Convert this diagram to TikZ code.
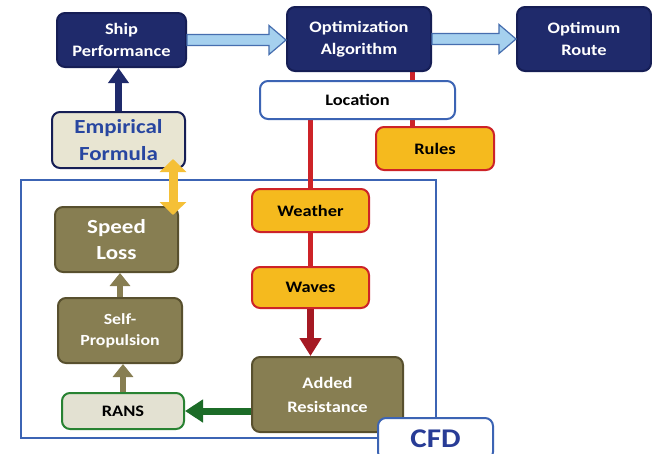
\documentclass[tikz,border=0pt]{standalone}
\usepackage{fontspec}
\setmainfont{Carlito}[FakeStretch=1.15]
\usetikzlibrary{arrows.meta,calc}
\definecolor{navy}{RGB}{31,42,107}
\definecolor{navyline}{RGB}{22,30,85}
\definecolor{lblue}{RGB}{165,208,238}
\definecolor{lblueline}{RGB}{70,110,175}
\definecolor{empfill}{RGB}{232,229,210}
\definecolor{emptext}{RGB}{40,70,160}
\definecolor{olive}{RGB}{135,126,82}
\definecolor{oliveline}{RGB}{88,80,46}
\definecolor{ransfill}{RGB}{227,225,210}
\definecolor{greenline}{RGB}{40,130,50}
\definecolor{greenarr}{RGB}{28,108,40}
\definecolor{orange}{RGB}{245,186,30}
\definecolor{redline}{RGB}{205,35,40}
\definecolor{redarr}{RGB}{165,25,35}
\definecolor{cfdblue}{RGB}{60,100,180}
\definecolor{cfdtext}{RGB}{40,60,150}
\definecolor{yellowarr}{RGB}{245,192,55}
\pgfdeclarelayer{bg}
\pgfsetlayers{bg,main}
\tikzset{
  box/.style={rounded corners=8pt, line width=2pt, align=center, inner sep=0pt,
    font=\bfseries\fontsize{16}{22}\selectfont},
  navybox/.style={box, fill=navy, draw=navyline, text=white},
  olivebox/.style={box, fill=olive, draw=oliveline, text=white},
  orangebox/.style={box, fill=orange, draw=redline, text=black},
  whitebox/.style={box, fill=white, draw=cfdblue, text=black},
  fatarrow/.style={fill=lblue, draw=lblueline, line width=1.2pt, line join=miter},
  redconn/.style={draw=redline, line width=5pt},
}
\begin{document}
\begin{tikzpicture}[x=1pt,y=-1pt]
\useasboundingbox (0,0) rectangle (652,453);
% nodes
\node[navybox, minimum width=129pt, minimum height=54pt] (sp) at (121.5,40) {Ship\\Performance};
\node[navybox, minimum width=144pt, minimum height=64pt] (opt) at (359,39) {Optimization\\Algorithm};
\node[navybox, minimum width=134pt, minimum height=64pt] (route) at (584,39) {Optimum\\Route};
\node[whitebox, minimum width=195pt, minimum height=38pt] (loc) at (357.5,100) {Location};
\node[orangebox, minimum width=118pt, minimum height=43pt] (rules) at (435,148.5) {Rules};
\node[box, fill=empfill, draw=navyline, text=emptext, minimum width=133pt, minimum height=56pt,
  font=\bfseries\fontsize{20}{27}\selectfont] (emp) at (118.5,140) {Empirical\\Formula};
\node[olivebox, minimum width=123pt, minimum height=65pt,
  font=\bfseries\fontsize{20}{26}\selectfont] (speed) at (116.5,239.5) {Speed\\Loss};
\node[olivebox, minimum width=124pt, minimum height=65pt,
  font=\bfseries\fontsize{15.5}{21}\selectfont] (self) at (120,330.5) {Self-\\Propulsion};
\node[box, fill=ransfill, draw=greenline, text=black, minimum width=122pt, minimum height=36pt] (rans) at (123,411) {RANS};
\node[orangebox, minimum width=117pt, minimum height=43pt] (weather) at (310.5,210.5) {Weather};
\node[orangebox, minimum width=117pt, minimum height=41pt] (waves) at (310.5,287.5) {Waves};
\node[olivebox, minimum width=151pt, minimum height=75pt,
  font=\bfseries\fontsize{16}{24}\selectfont] (added) at (327.5,394.5) {Added\\Resistance};
\node[box, fill=white, draw=cfdblue, text=cfdtext, minimum width=115pt, minimum height=42pt,
  font=\bfseries\fontsize{27}{30}\selectfont] (cfd) at (435.5,439) {CFD};
% background layer: white page, CFD frame, red lines
\begin{pgfonlayer}{bg}
  \fill[white] (0,0) rectangle (652,453);
  \draw[cfdblue, line width=2.5pt] (21,180) rectangle (436,438);
  \coordinate (r1) at ([xshift=-23pt]rules.north);
  \draw[redconn] (opt.south -| r1) -- (r1);
  \draw[redconn] (weather.north |- loc.south) -- (weather.north);
  \draw[redconn] (weather.south) -- (waves.north);
\end{pgfonlayer}
% fat light-blue arrows
\coordinate (a1) at (opt.west |- sp.east);
\draw[fatarrow] ($(sp.east)+(0,-5.5)$) -- ($(a1)+(-17,-5.5)$) -- ($(a1)+(-17,-14.5)$) -- (a1)
  -- ($(a1)+(-17,14.5)$) -- ($(a1)+(-17,5.5)$) -- ($(sp.east)+(0,5.5)$) -- cycle;
\coordinate (a2) at (route.west |- opt.east);
\draw[fatarrow] ($(opt.east)+(0,-5.5)$) -- ($(a2)+(-17,-5.5)$) -- ($(a2)+(-17,-14.5)$) -- (a2)
  -- ($(a2)+(-17,14.5)$) -- ($(a2)+(-17,5.5)$) -- ($(opt.east)+(0,5.5)$) -- cycle;
% solid arrows
\draw[navy, line width=7pt, -{Triangle[width=20pt,length=15pt]}] (emp.north) -- (emp.north |- sp.south);
\coordinate (ya) at ($(emp.south east)+(-13,-10)$);
\coordinate (yb) at ($(speed.north east)+(-5,9)$);
\draw[yellowarr, line width=9pt, {Triangle[width=26pt,length=13pt]}-{Triangle[width=26pt,length=13pt]}] (ya) -- (ya |- yb);
\draw[redarr, line width=7pt, -{Triangle[width=21pt,length=18pt]}] (waves.south) -- (waves.south |- added.north);
\draw[greenarr, line width=7pt, -{Triangle[width=22pt,length=18pt]}] (rans.east -| added.west) -- (rans.east);
\draw[olive, line width=6pt, -{Triangle[width=20pt,length=13pt]}] (rans.north) -- (rans.north |- self.south);
\draw[olive, line width=6pt, -{Triangle[width=20pt,length=13pt]}] (self.north) -- (self.north |- speed.south);
\end{tikzpicture}
\end{document}
